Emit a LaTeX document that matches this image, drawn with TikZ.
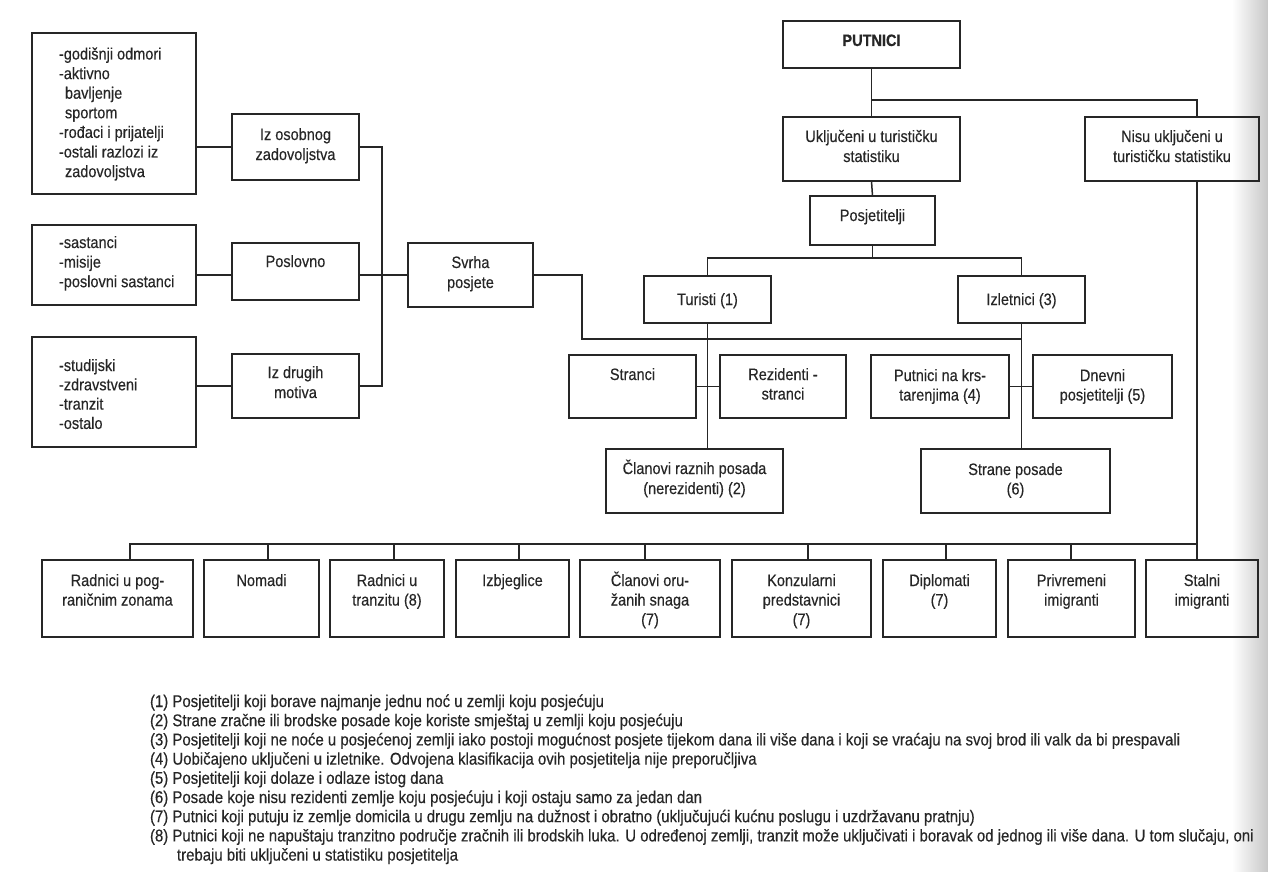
\documentclass[tikz,border=0pt]{standalone}
\usepackage{fontspec}
\setmainfont{Liberation Sans}[FakeStretch=0.88,FakeBold=0.3]
\usetikzlibrary{fit}
\newcommand\clines[2]{\vtop{\baselineskip=#1\lineskiplimit=-100pt\lineskip=0pt\halign{\hfil##\hfil\cr#2\crcr}}}
\newcommand\llines[2]{\vtop{\baselineskip=#1\lineskiplimit=-100pt\lineskip=0pt\halign{##\hfil\cr#2\crcr}}}
\begin{document}
\begin{tikzpicture}[x=1pt,y=-1pt,
  bx/.style={draw=black!85, line width=1.5pt, inner sep=0pt, outer sep=0pt},
  txt/.style={inner sep=0pt, outer sep=0pt, text=black!85, font=\fontsize{16.5}{19.5}\selectfont},
  fn/.style={inner sep=0pt, outer sep=0pt, text=black!85, font=\fontsize{17}{19.2}\selectfont},
  ln/.style={draw=black!85, line width=1.5pt}]
\useasboundingbox (0,0) rectangle (1268,872);
\fill[white] (0,0) rectangle (1268,872);
\fill[left color=white, right color=black!22] (1232,0) rectangle (1268,872);
% boxes
\node[bx, fit={(32,33) (196,194)}] (lst1) {};
\node[bx, fit={(232,114) (359,180)}] (osob) {};
\node[bx, fit={(32,225) (196,305)}] (lst2) {};
\node[bx, fit={(232,243) (359,300)}] (posl) {};
\node[bx, fit={(408,243) (533,307)}] (svrha) {};
\node[bx, fit={(32,337) (196,447)}] (lst3) {};
\node[bx, fit={(232,354) (359,418)}] (drug) {};
\node[bx, fit={(783,21) (960,68)}] (put) {};
\node[bx, fit={(783,117) (960,181)}] (uklj) {};
\node[bx, fit={(1085,117) (1259,181)}] (nisu) {};
\node[bx, fit={(810,196) (935,245)}] (posj) {};
\node[bx, fit={(644,276) (771,323)}] (tur) {};
\node[bx, fit={(958,276) (1085,323)}] (izl) {};
\node[bx, fit={(569,355) (696,418)}] (stra) {};
\node[bx, fit={(720,355) (846,418)}] (rez) {};
\node[bx, fit={(871,355) (1009,418)}] (krs) {};
\node[bx, fit={(1033,355) (1172,418)}] (dnev) {};
\node[bx, fit={(606,449) (783,513)}] (clan) {};
\node[bx, fit={(921,449) (1110,513)}] (spos) {};
\node[bx, fit={(42,560) (193,637)}] (b1) {};
\node[bx, fit={(204,560) (319,637)}] (b2) {};
\node[bx, fit={(330,560) (444,637)}] (b3) {};
\node[bx, fit={(456,560) (569,637)}] (b4) {};
\node[bx, fit={(580,560) (720,637)}] (b5) {};
\node[bx, fit={(732,560) (871,637)}] (b6) {};
\node[bx, fit={(883,560) (996,637)}] (b7) {};
\node[bx, fit={(1008,560) (1135,637)}] (b8) {};
\node[bx, fit={(1146,560) (1258,637)}] (b9) {};
% texts
\node[txt, anchor=base west] (t-lst1) at (59,59.5) {\llines{19.6pt}{-godišnji odmori\cr -aktivno\cr \hskip6pt bavljenje\cr \hskip6pt sportom\cr -rođaci i prijatelji\cr -ostali razlozi iz\cr \hskip6pt zadovoljstva}};
\node[txt, anchor=base] (t-osob) at (295.5,140) {\clines{20pt}{Iz osobnog\cr zadovoljstva}};
\node[txt, anchor=base west] (t-lst2) at (59,248) {\llines{19.6pt}{-sastanci\cr -misije\cr -poslovni sastanci}};
\node[txt, anchor=base] (t-posl) at (295.5,267) {Poslovno};
\node[txt, anchor=base] (t-svrha) at (470.5,268) {\clines{20pt}{Svrha\cr posjete}};
\node[txt, anchor=base west] (t-lst3) at (59,371) {\llines{19.3pt}{-studijski\cr -zdravstveni\cr -tranzit\cr -ostalo}};
\node[txt, anchor=base] (t-drug) at (295.5,378) {\clines{20pt}{Iz drugih\cr motiva}};
\node[txt, anchor=base] (t-put) at (871.5,46) {\textbf{PUTNICI}};
\node[txt, anchor=base] (t-uklj) at (871.5,142) {\clines{20pt}{Uključeni u turističku\cr statistiku}};
\node[txt, anchor=base] (t-nisu) at (1172,142) {\clines{20pt}{Nisu uključeni u\cr turističku statistiku}};
\node[txt, anchor=base] (t-posj) at (872.5,221) {Posjetitelji};
\node[txt, anchor=base] (t-tur) at (707.5,305) {Turisti (1)};
\node[txt, anchor=base] (t-izl) at (1021.5,305) {Izletnici (3)};
\node[txt, anchor=base] (t-stra) at (632.5,380) {Stranci};
\node[txt, anchor=base] (t-rez) at (783,380) {\clines{19.5pt}{Rezidenti -\cr stranci}};
\node[txt, anchor=base] (t-krs) at (940,381) {\clines{19.5pt}{Putnici na krs-\cr tarenjima (4)}};
\node[txt, anchor=base] (t-dnev) at (1102.5,381) {\clines{19.5pt}{Dnevni\cr posjetitelji (5)}};
\node[txt, anchor=base] (t-clan) at (694.5,474) {\clines{20pt}{Članovi raznih posada\cr (nerezidenti) (2)}};
\node[txt, anchor=base] (t-spos) at (1015.5,475) {\clines{19.5pt}{Strane posade\cr (6)}};
\node[txt, anchor=base] (t-b1) at (117.5,586) {\clines{19.5pt}{Radnici u pog-\cr raničnim zonama}};
\node[txt, anchor=base] (t-b2) at (261.5,586) {Nomadi};
\node[txt, anchor=base] (t-b3) at (387,586) {\clines{19.5pt}{Radnici u\cr tranzitu (8)}};
\node[txt, anchor=base] (t-b4) at (512.5,586) {Izbjeglice};
\node[txt, anchor=base] (t-b5) at (650,586) {\clines{19.5pt}{Članovi oru-\cr žanih snaga\cr (7)}};
\node[txt, anchor=base] (t-b6) at (801.5,586) {\clines{19.5pt}{Konzularni\cr predstavnici\cr (7)}};
\node[txt, anchor=base] (t-b7) at (939.5,586) {\clines{19.5pt}{Diplomati\cr (7)}};
\node[txt, anchor=base] (t-b8) at (1071.5,586) {\clines{19.5pt}{Privremeni\cr imigranti}};
\node[txt, anchor=base] (t-b9) at (1202,586) {\clines{19.5pt}{Stalni\cr imigranti}};
\node[fn, anchor=base west] (notes) at (150,707) {\llines{19.2pt}{%
(1) Posjetitelji koji borave najmanje jednu noć u zemlji koju posjećuju\cr
(2) Strane zračne ili brodske posade koje koriste smještaj u zemlji koju posjećuju\cr
(3) Posjetitelji koji ne noće u posjećenoj zemlji iako postoji mogućnost posjete tijekom dana ili više dana i koji se vraćaju na svoj brod ili valk da bi prespavali\cr
(4) Uobičajeno uključeni u izletnike. Odvojena klasifikacija ovih posjetitelja nije preporučljiva\cr
(5) Posjetitelji koji dolaze i odlaze istog dana\cr
(6) Posade koje nisu rezidenti zemlje koju posjećuju i koji ostaju samo za jedan dan\cr
(7) Putnici koji putuju iz zemlje domicila u drugu zemlju na dužnost i obratno (uključujući kućnu poslugu i uzdržavanu pratnju)\cr
(8) Putnici koji ne napuštaju tranzitno područje zračnih ili brodskih luka. U određenoj zemlji, tranzit može uključivati i boravak od jednog ili više dana. U tom slučaju, oni\cr
\hskip27pt trebaju biti uključeni u statistiku posjetitelja}};
% helper coordinates
\coordinate (yb) at (0,100);
\coordinate (yp) at (0,258);
\coordinate (nx) at (1197,0);
\coordinate (jx) at (382,0);
\coordinate (sx) at (582,0);
\coordinate (sy) at (0,339);
\coordinate (yb2) at (0,544);
\coordinate (s1) at (130,0);
\coordinate (s2) at (268,0);
\coordinate (s3) at (394,0);
\coordinate (s4) at (519,0);
\coordinate (s5) at (645,0);
\coordinate (s6) at (808,0);
\coordinate (s7) at (946,0);
\coordinate (s8) at (1071,0);
% connectors top
\draw[ln] (put.south) -- (uklj.north);
\draw[ln] (put.south |- yb) -| (nx |- nisu.north);
\draw[ln] (uklj.south) -- (posj.north);
\draw[ln] (posj.south) -- (posj.south |- yp);
\draw[ln] (tur.north) |- (izl.north |- yp) -- (izl.north);
\draw[ln] (tur.south) -- (tur.south |- clan.north);
\draw[ln] (stra.east) -- (rez.west);
\draw[ln] (izl.south) -- (izl.south |- spos.north);
\draw[ln] (krs.east) -- (dnev.west);
% left
\draw[ln] (lst1.east |- osob.west) -- (osob.west);
\draw[ln] (lst2.east |- svrha.west) -- (posl.west |- svrha.west);
\draw[ln] (lst3.east |- drug.west) -- (drug.west);
\draw[ln] (osob.east) -| (jx |- drug.east) -- (drug.east);
\draw[ln] (posl.east |- svrha.west) -- (svrha.west);
\draw[ln] (svrha.east) -| (sx |- sy) -- (izl.south |- sy);
% right trunk and bottom bus
\draw[ln] (nx |- nisu.south) -- (nx |- b9.north);
\draw[ln] (s1 |- b1.north) |- (nx |- yb2);
\draw[ln] (s2 |- yb2) -- (s2 |- b2.north);
\draw[ln] (s3 |- yb2) -- (s3 |- b3.north);
\draw[ln] (s4 |- yb2) -- (s4 |- b4.north);
\draw[ln] (s5 |- yb2) -- (s5 |- b5.north);
\draw[ln] (s6 |- yb2) -- (s6 |- b6.north);
\draw[ln] (s7 |- yb2) -- (s7 |- b7.north);
\draw[ln] (s8 |- yb2) -- (s8 |- b8.north);
\end{tikzpicture}
\end{document}
